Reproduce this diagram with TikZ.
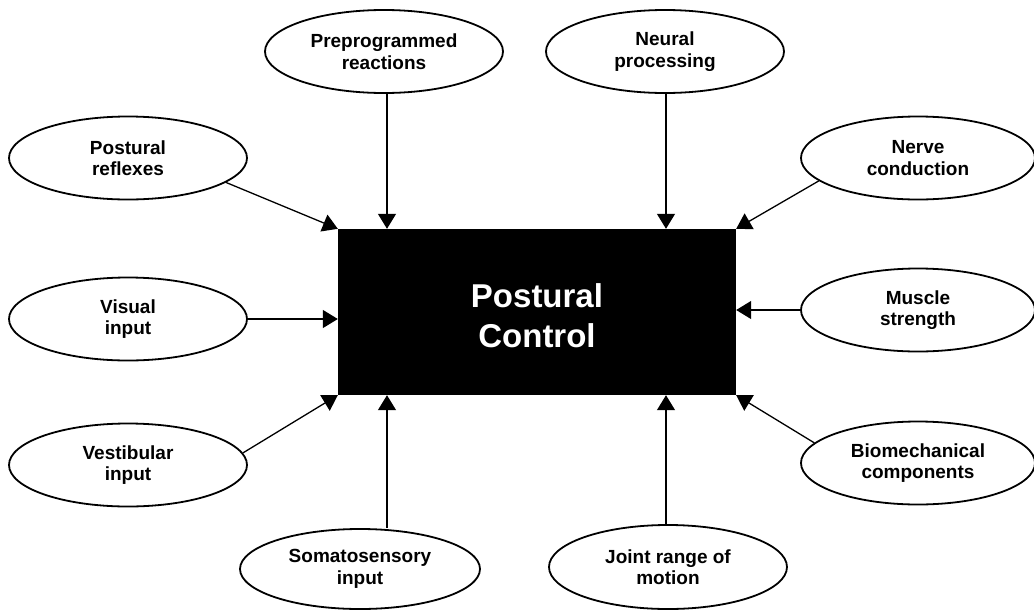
\documentclass[tikz,border=0pt]{standalone}
\usepackage{fontspec}
\setmainfont{Liberation Sans}
\usetikzlibrary{shapes.geometric,arrows.meta}
\begin{document}
\begin{tikzpicture}[x=1pt,y=-1pt,
  oval/.style={ellipse, draw, line width=1.8pt, minimum width=238pt, minimum height=83pt,
    inner sep=0pt, align=center, font=\bfseries\fontsize{19}{21.5}\selectfont},
  arr/.style={line width=1.3pt, -{Triangle[width=18pt,length=15pt]}},
  core/.style={fill=black, minimum width=398pt, minimum height=166pt, inner sep=0pt,
    text=white, align=center, font=\bfseries\fontsize{33}{40}\selectfont}]
\useasboundingbox (0,0) rectangle (1034,611);

\node[core] (box) at (537,312) {\rule{0pt}{32pt}Postural\\Control};

\node[oval] (prep)    at (384,51.5) {Preprogrammed\\reactions};
\node[oval] (neural)  at (665,51.5) {Neural\\processing};
\node[oval, minimum width=234pt] (nerve)   at (918,158) {Nerve\\conduction};
\node[oval] (reflex)  at (128,158) {Postural\\reflexes};
\node[oval] (visual)  at (128,319) {Visual\\input};
\node[oval, minimum width=234pt] (muscle)  at (918,310) {Muscle\\strength};
\node[oval] (vestib)  at (128,465) {Vestibular\\input};
\node[oval, minimum width=234pt] (biomech) at (918,463) {Biomechanical\\components};
\node[oval, minimum width=240pt, minimum height=80pt] (somato) at (360,569) {Somatosensory\\input};
\node[oval, minimum height=84pt] (joint)   at (668,567) {Joint range of\\motion};

\coordinate (lcol) at (387,0);
\coordinate (rcol) at (666,0);

\draw[arr] (prep.south -| lcol) -- (lcol |- box.north);
\draw[arr] (neural.south -| rcol) -- (rcol |- box.north);
\draw[arr] (somato.north -| lcol) -- (lcol |- box.south);
\draw[arr] (joint.north -| rcol) -- (rcol |- box.south);
\draw[arr] (visual.east) -- (visual.east -| box.west);
\draw[arr] (muscle.west) -- (muscle.west -| box.east);
\draw[arr] (reflex.-14) -- (box.north west);
\draw[arr] (nerve.193) -- (box.north east);
\draw[arr] (vestib.6) -- (box.south west);
\draw[arr] (biomech.169) -- (box.south east);
\end{tikzpicture}
\end{document}
